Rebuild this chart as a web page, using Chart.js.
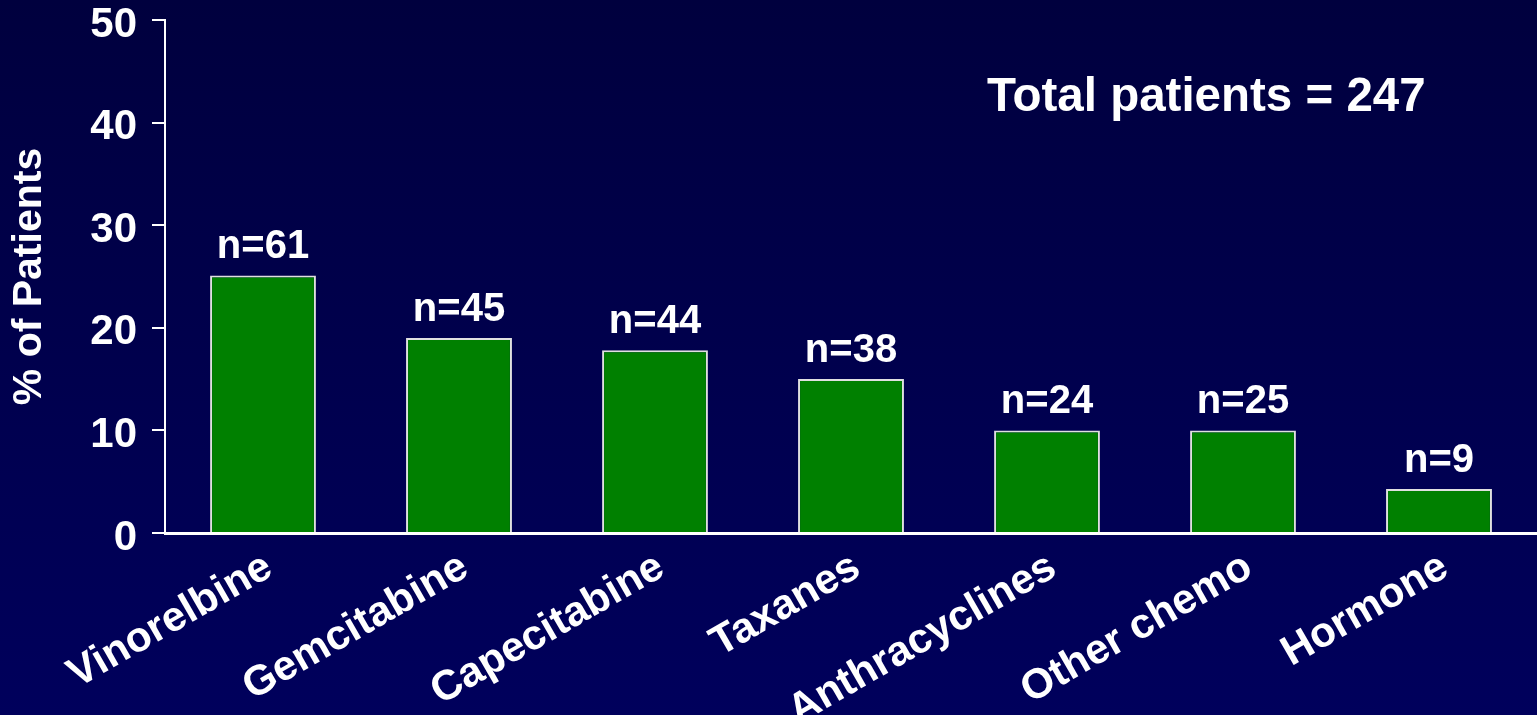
<!DOCTYPE html>
<html>
<head>
<meta charset="utf-8">
<script src="https://cdn.jsdelivr.net/npm/chart.js@4/dist/chart.umd.min.js"></script>
<style>
  html, body { margin: 0; padding: 0; overflow: hidden; }
  body { width: 1537px; height: 715px; background: linear-gradient(to bottom, #00003e 0%, #00005c 100%); }
  #wrap { position: relative; width: 1537px; height: 715px; }
</style>
</head>
<body>
<div id="wrap"><canvas id="c" width="1537" height="715"></canvas></div>
<script>
const categories = ['Vinorelbine', 'Gemcitabine', 'Capecitabine', 'Taxanes', 'Anthracyclines', 'Other chemo', 'Hormone'];
const percentPatients = [25.1, 19.0, 17.8, 15.0, 10.0, 10.0, 4.3];
const patientCounts = [61, 45, 44, 38, 24, 25, 9];
const yTicks = [0, 10, 20, 30, 40, 50];
const yAxisTitle = '% of Patients';
const totalText = 'Total patients = 247';

const FONT = "'Liberation Sans', Arial, Helvetica, sans-serif";

const countLabels = {
  id: 'countLabels',
  afterDatasetsDraw(chart) {
    const ctx = chart.ctx;
    const meta = chart.getDatasetMeta(0);
    ctx.save();
    ctx.fillStyle = '#ffffff';
    ctx.font = 'bold 40px ' + FONT;
    ctx.textAlign = 'center';
    ctx.textBaseline = 'alphabetic';
    meta.data.forEach((bar, i) => {
      ctx.fillText('n=' + patientCounts[i], bar.x, bar.y - 17);
    });
    ctx.restore();
  }
};

const totalLabel = {
  id: 'totalLabel',
  afterDraw(chart) {
    const ctx = chart.ctx;
    ctx.save();
    ctx.fillStyle = '#ffffff';
    ctx.font = 'bold 47.5px ' + FONT;
    ctx.textAlign = 'left';
    ctx.textBaseline = 'alphabetic';
    ctx.fillText(totalText, 987, 111);
    ctx.restore();
  }
};

new Chart(document.getElementById('c'), {
  type: 'bar',
  data: {
    labels: categories,
    datasets: [{
      data: percentPatients,
      backgroundColor: '#008000',
      borderColor: '#e0e0e0',
      borderWidth: 2,
      borderSkipped: 'bottom',
      barPercentage: 0.54,
      categoryPercentage: 1.0
    }]
  },
  options: {
    responsive: false,
    animation: false,
    devicePixelRatio: 1,
    layout: { padding: { top: 20, right: 0, left: 0, bottom: 0 } },
    plugins: {
      legend: { display: false },
      tooltip: { enabled: false },
      title: { display: false }
    },
    scales: {
      x: {
        grid: { display: false },
        border: { display: true, color: '#ffffff', width: 3 },
        ticks: {
          color: '#ffffff',
          font: { family: FONT, size: 42, weight: 'bold', lineHeight: 1.0 },
          minRotation: 30,
          maxRotation: 30,
          autoSkip: false,
          padding: 5,
          labelOffset: 6
        },
        afterFit(scale) { scale.height = 182; }
      },
      y: {
        min: 0,
        max: 50,
        afterBuildTicks(scale) { scale.ticks = yTicks.map(v => ({ value: v })); },
        grid: { display: true, drawOnChartArea: false, drawTicks: true, tickLength: 13, color: '#ffffff', lineWidth: 2 },
        border: { display: true, color: '#ffffff', width: 2 },
        ticks: {
          color: '#ffffff',
          font: { family: FONT, size: 42, weight: 'bold', lineHeight: 0.2 },
          padding: 15,
          labelOffset: 5
        },
        title: {
          display: true,
          text: yAxisTitle,
          color: '#ffffff',
          font: { family: FONT, size: 41, weight: 'bold', lineHeight: 1.2 },
          padding: { top: 5, bottom: 0 }
        },
        afterFit(scale) { scale.width = 165; }
      }
    }
  },
  plugins: [countLabels, totalLabel]
});
</script>
</body>
</html>
